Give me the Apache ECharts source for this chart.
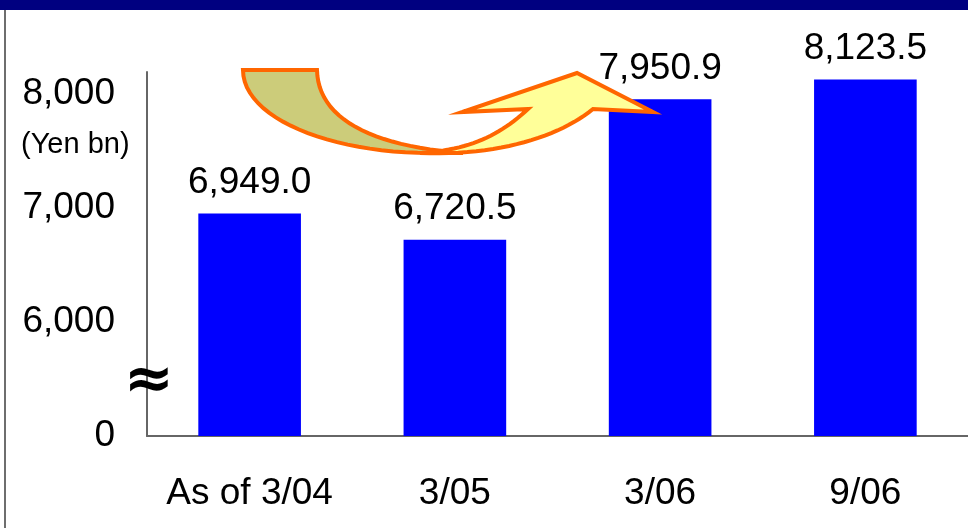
<!DOCTYPE html>
<html>
<head>
<meta charset="utf-8">
<script src="https://cdn.jsdelivr.net/npm/echarts@6/dist/echarts.min.js"></script>
<style>
html,body{margin:0;padding:0;background:#fff;}
#chart{width:968px;height:528px;}
</style>
</head>
<body>
<div id="chart"></div>
<script>
// Data
const categories = ['As of 3/04', '3/05', '3/06', '9/06'];
const values = [6949.0, 6720.5, 7950.9, 8123.5];
// Broken axis: the "0" tick sits where 5,000 would be
const yTickValues = [5000, 6000, 7000, 8000];
const yTickLabels = ['0', '6,000', '7,000', '8,000'];
const unitLabel = '(Yen bn)';
const breakSymbol = '≈';

const FONT = '"Liberation Sans", Arial, sans-serif';

function fmt(v) {
  const s = v.toFixed(1).split('.');
  return s[0].replace(/\B(?=(\d{3})+(?!\d))/g, ',') + '.' + s[1];
}

// decorative arrow outline: segments of ['L',x,y] or ['C',x1,y1,x2,y2,x,y]
function outline(start, segs) {
  const pts = [start.slice()];
  let cur = start.slice();
  segs.forEach(s => {
    if (s[0] === 'L') { cur = [s[1], s[2]]; pts.push(cur); }
    else {
      const [ , x1, y1, x2, y2, x, y] = s;
      for (let i = 1; i <= 24; i++) {
        const t = i / 24, u = 1 - t;
        pts.push([
          u*u*u*cur[0] + 3*u*u*t*x1 + 3*u*t*t*x2 + t*t*t*x,
          u*u*u*cur[1] + 3*u*u*t*y1 + 3*u*t*t*y2 + t*t*t*y
        ]);
      }
      cur = [x, y];
    }
  });
  return pts;
}

const backPart = outline([243, 70], [
  ['L', 317, 70],
  ['C', 318, 118, 370, 146, 463, 153],
  ['L', 430, 153],
  ['C', 330, 153, 243, 118, 243, 70]
]);
const frontPart = outline([420, 153], [
  ['C', 500, 156, 560, 136, 593, 109],
  ['L', 653, 112],
  ['L', 577, 73],
  ['L', 462, 112],
  ['L', 528, 109],
  ['C', 500, 135, 470, 150, 420, 153]
]);

const chart = echarts.init(document.getElementById('chart'));
chart.setOption({
  animation: false,
  backgroundColor: '#ffffff',
  grid: { left: 147, top: 72, width: 824, bottom: 92, containLabel: false },
  xAxis: {
    type: 'category',
    data: categories,
    axisLine: { show: true, lineStyle: { color: '#666666', width: 2 } },
    axisTick: { show: false },
    axisLabel: { color: '#000', fontSize: 37, fontFamily: FONT, margin: 39, interval: 0 },
    splitLine: { show: false }
  },
  yAxis: {
    type: 'value',
    min: 5000,
    max: 8190,
    interval: 1000,
    axisLine: { show: true, lineStyle: { color: '#666666', width: 2 } },
    axisTick: { show: false },
    splitLine: { show: false },
    axisLabel: {
      color: '#000', fontSize: 37, fontFamily: FONT, margin: 32,
      showMaxLabel: false,
      formatter: function (v) {
        const i = yTickValues.indexOf(v);
        return i >= 0 ? yTickLabels[i] : '';
      }
    }
  },
  series: [{
    type: 'bar',
    data: values,
    barWidth: '50%',
    itemStyle: { color: '#0000ff' },
    label: {
      show: true,
      position: 'top',
      distance: 12,
      color: '#000',
      fontSize: 37,
      fontFamily: FONT,
      formatter: p => fmt(p.value)
    }
  }],
  graphic: [
    { type: 'rect', shape: { x: 0, y: 0, width: 968, height: 10 }, style: { fill: '#000080' }, z: 10 },
    { type: 'line', shape: { x1: 5, y1: 10, x2: 5, y2: 528 }, style: { stroke: '#6e6e6e', lineWidth: 2 }, z: 10 },
    { type: 'text', x: 21, y: 145, style: { text: unitLabel, fontSize: 29, fontFamily: FONT, fill: '#000', textVerticalAlign: 'middle' }, z: 10 },
    { type: 'text', x: 149, y: 382, style: { text: breakSymbol, fontSize: 60, fontWeight: 'bold', fontFamily: '"DejaVu Sans", sans-serif', fill: '#000', textAlign: 'center', textVerticalAlign: 'middle' }, z: 10 },
    { type: 'polygon', z: 20, shape: { points: backPart },
      style: { fill: '#cccc7a', stroke: '#ff6600', lineWidth: 4, lineJoin: 'miter' } },
    { type: 'polygon', z: 21, shape: { points: frontPart },
      style: { fill: '#ffff99', stroke: '#ff6600', lineWidth: 4, lineJoin: 'miter' } }
  ]
});
</script>
</body>
</html>
